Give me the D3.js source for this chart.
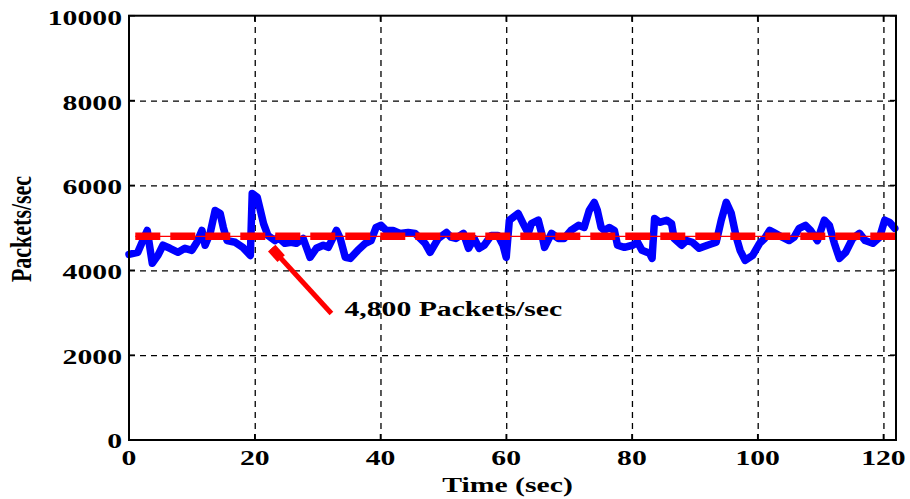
<!DOCTYPE html>
<html>
<head>
<meta charset="utf-8">
<script src="https://cdn.jsdelivr.net/npm/d3@7"></script>
<style>
  html, body { margin: 0; padding: 0; background: #fff; }
  svg text { font-family: "Liberation Serif", "Times New Roman", serif; font-weight: bold; fill: #000; }
</style>
</head>
<body>
<svg id="chart" width="910" height="499"></svg>
<script>
// ---- data ----
const xTicks = [0, 20, 40, 60, 80, 100, 120];
const yTicks = [0, 2000, 4000, 6000, 8000, 10000];
const xTickLabels = ["0", "20", "40", "60", "80", "100", "120"];
const yTickLabels = ["0", "2000", "4000", "6000", "8000", "10000"];
const time = [0, 1.4, 2.9, 3.7, 4.6, 5.4, 6.5, 7.8, 8.9, 10, 10.8, 11.6, 12.1, 12.9, 13.7, 14.5, 15, 15.6, 16.9, 18.1, 19.3, 19.6, 20.4, 20.9, 21.4, 22.1, 23.2,
  23.7, 24.8, 25.8, 26.6, 27.7, 28.8, 29.8, 30.9, 31.7, 32.5, 33, 33.6, 34.4, 35.2, 36.4, 37.6, 38.5, 39.3, 40.1, 40.9, 42, 43.1, 44.4, 45.5, 47.1, 47.9,
  49.2, 50.5, 51.2, 52, 53.2, 54, 54.9, 55.7, 56.5, 57.6, 58.7, 59.5, 60, 60.5, 61.9, 62.7, 63.5, 64, 65.1, 65.6, 66.1, 67.2, 68.3, 69.2, 70.3, 71.5, 72.4,
  73.2, 74, 74.5, 75.1, 75.6, 76.4, 77.2, 77.7, 78.8, 80.1, 80.9, 81.6, 82.8, 83.2, 83.6, 84.4, 85.5, 86.3, 86.7, 87.9, 88.7, 89.6, 90.7, 92, 93.4, 94.2, 95, 95.8, 96.6,
  97.2, 98, 99.2, 100.3, 101.1, 101.9, 102.8, 103.9, 105, 105.8, 106.6, 107.6, 108.4, 109.5, 110.6, 111.4, 112.2, 113, 114, 115.1, 116.2, 117.1, 118.3, 119.4, 120.2, 121, 121.8];
const packets = [4376, 4424, 4940, 4165, 4350, 4590, 4518, 4424, 4518, 4470, 4660, 4940, 4590, 4870, 5410, 5340, 5010, 4700, 4660, 4540, 4350, 5810, 5720, 5410, 5100, 4820, 4700,
  4780, 4635, 4660, 4635, 4750, 4305, 4518, 4590, 4540, 4780, 4940, 4750, 4305, 4280, 4470, 4635, 4700, 5010, 5060, 4940, 4940, 4870, 4890, 4870, 4635, 4424,
  4750, 4890, 4780, 4750, 4870, 4518, 4750, 4518, 4590, 4820, 4820, 4590, 4305, 5180, 5340, 5100, 4870, 5100, 5180, 4890, 4540, 4870, 4750, 4750, 4940, 5060, 5010,
  5410, 5600, 5410, 5010, 4940, 5010, 4940, 4590, 4540, 4590, 4660, 4470, 4400, 4280, 5220, 5130, 5180, 5100, 4750, 4590, 4700, 4660, 4518, 4590, 4660, 5180, 5600, 5340, 4780,
  4470, 4235, 4350, 4635, 4750, 4940, 4870, 4780, 4700, 4780, 4990, 5060, 4940, 4700, 5180, 5060, 4635, 4280, 4424, 4750, 4870, 4700, 4635, 4780, 5180, 5130, 4990];
const meanValue = 4800;
const meanRange = [1, 122];
const annotationText = "4,800 Packets/sec";
const annotationFrom = [32.2, 2980];
const annotationTo = [22.7, 4520];
const xTitle = "Time (sec)";
const yTitle = "Packets/sec";

// ---- layout ----
const L = 129, R = 896, T = 15.7, B = 440;
const SX = 1.35; // horizontal text stretch seen in reference
const svg = d3.select("#chart");
svg.append("rect").attr("width", 910).attr("height", 499).attr("fill", "#fff");

const x = d3.scaleLinear().domain([0, 122]).range([L, R]);
const y = d3.scaleLinear().domain([0, 10000]).range([B, T]);

// grid via axes
const gx = svg.append("g").attr("transform", `translate(0,${B})`)
  .call(d3.axisBottom(x).tickValues(xTicks.filter(d => d > 0)).tickSize(-(B - T)).tickFormat(""));
const gy = svg.append("g").attr("transform", `translate(${L},0)`)
  .call(d3.axisLeft(y).tickValues(yTicks.filter(d => d > 0 && d < 10000)).tickSize(-(R - L)).tickFormat(""));
[gx, gy].forEach(g => {
  g.select(".domain").remove();
  g.selectAll(".tick line").attr("stroke", "#000").attr("stroke-width", 1.3).attr("stroke-dasharray", "6,5");
});

// inward ticks on all sides
const tk = 6;
xTicks.forEach(v => {
  svg.append("line").attr("x1", x(v)).attr("x2", x(v)).attr("y1", B).attr("y2", B - tk).attr("stroke", "#000").attr("stroke-width", 1.5);
  svg.append("line").attr("x1", x(v)).attr("x2", x(v)).attr("y1", T).attr("y2", T + tk).attr("stroke", "#000").attr("stroke-width", 1.5);
});
yTicks.forEach(v => {
  svg.append("line").attr("x1", L).attr("x2", L + tk).attr("y1", y(v)).attr("y2", y(v)).attr("stroke", "#000").attr("stroke-width", 1.5);
  svg.append("line").attr("x1", R).attr("x2", R - tk).attr("y1", y(v)).attr("y2", y(v)).attr("stroke", "#000").attr("stroke-width", 1.5);
});

// data line
const data = time.map((t, i) => [t, packets[i]]);
svg.append("path").datum(data)
  .attr("d", d3.line().x(d => x(d[0])).y(d => y(d[1])))
  .attr("fill", "none").attr("stroke", "#0000ff").attr("stroke-width", 7.5)
  .attr("stroke-linejoin", "round").attr("stroke-linecap", "round");

// mean line: thin solid + thick dashes
const meanLine = d3.line().x(d => x(d)).y(() => y(meanValue));
svg.append("path").datum(meanRange).attr("d", meanLine)
  .attr("fill", "none").attr("stroke", "#ff0000").attr("stroke-width", 1.2);
svg.append("path").datum(meanRange).attr("d", meanLine)
  .attr("fill", "none").attr("stroke", "#ff0000").attr("stroke-width", 7.5)
  .attr("stroke-dasharray", "25,10");

// annotation pointer
svg.append("line")
  .attr("x1", x(annotationFrom[0])).attr("y1", y(annotationFrom[1]))
  .attr("x2", x(annotationTo[0])).attr("y2", y(annotationTo[1]))
  .attr("stroke", "#ff0000").attr("stroke-width", 5);
{
  const dx = x(annotationTo[0]) - x(annotationFrom[0]), dy = y(annotationTo[1]) - y(annotationFrom[1]);
  const len = Math.hypot(dx, dy), ux = dx / len, uy = dy / len;
  const tx = x(annotationTo[0]), ty = y(annotationTo[1]);
  svg.append("line")
    .attr("x1", tx - ux * 14).attr("y1", ty - uy * 14).attr("x2", tx).attr("y2", ty)
    .attr("stroke", "#ff0000").attr("stroke-width", 10);
}
svg.append("text")
  .attr("transform", `translate(${x(annotationFrom[0]) + 13},${y(annotationFrom[1]) + 2}) scale(${SX},1)`)
  .attr("font-size", 22).text(annotationText);

// frame
svg.append("rect").attr("x", L).attr("y", T).attr("width", R - L).attr("height", B - T)
  .attr("fill", "none").attr("stroke", "#000").attr("stroke-width", 2);

// tick labels
xTicks.forEach((v, i) => {
  svg.append("text").attr("transform", `translate(${x(v)},${B + 25}) scale(${SX},1)`)
    .attr("text-anchor", "middle").attr("font-size", 22).text(xTickLabels[i]);
});
yTicks.forEach((v, i) => {
  svg.append("text").attr("transform", `translate(${L - 7},${y(v) + (v === 0 ? 8 : 9)}) scale(${SX},1)`)
    .attr("text-anchor", "end").attr("font-size", 22).text(yTickLabels[i]);
});

// titles
svg.append("text").attr("transform", `translate(${(L + R) / 2 - 5},${B + 52}) scale(${SX},1)`)
  .attr("text-anchor", "middle").attr("font-size", 22).text(xTitle);
svg.append("text").attr("transform", `translate(31,229) rotate(-90) scale(1,${SX})`)
  .attr("text-anchor", "middle").attr("font-size", 22).text(yTitle);
</script>
</body>
</html>
